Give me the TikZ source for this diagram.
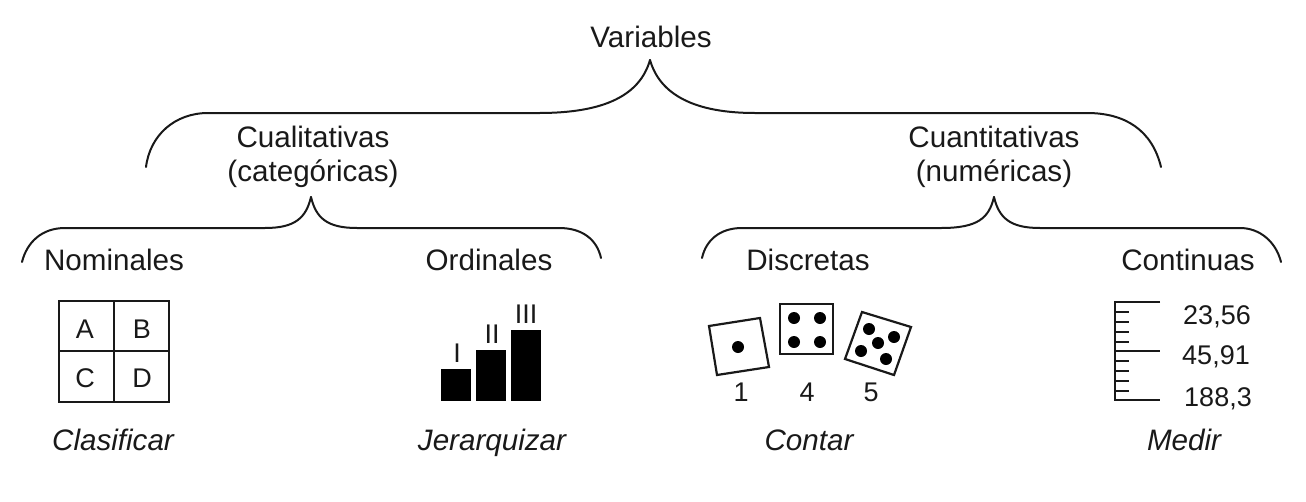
\documentclass[tikz,border=0pt]{standalone}
\usepackage{fontspec}
\setmainfont{Liberation Sans}
\newcommand{\bigtxt}{\fontsize{29.6}{31}\selectfont}
\newcommand{\midtxt}{\fontsize{27}{29}\selectfont}
\tikzset{
  x=1pt,y=-1pt,
  lab/.style={font=\bigtxt,anchor=base,inner sep=0pt,text=black!90},
  verb/.style={font=\bigtxt\itshape,anchor=base,inner sep=0pt,text=black!90},
  small/.style={font=\midtxt,anchor=base,inner sep=0pt,text=black!90},
  ink/.style={draw=black!90,line width=2.2pt,line join=miter},
  thinink/.style={draw=black!90,line width=2pt},
  brace/.style={draw=black!90,line width=2pt,line cap=round},
  bar/.style={fill=black,draw=none},
  pip/.style={fill=black,draw=none}
}
\begin{document}
\begin{tikzpicture}
\useasboundingbox (0,0) rectangle (1306,501);
% titles
\node[lab] (var) at (651,47) {Variables};
\node[lab] (cual) at (313,147) {Cualitativas};
\node[lab] (cat) at (313,181) {(categóricas)};
\node[lab] (cuan) at (994,147) {Cuantitativas};
\node[lab] (num) at (994,181) {(numéricas)};
\node[lab] (nom) at (114,270) {Nominales};
\node[lab] (ord) at (489,270) {Ordinales};
\node[lab] (dis) at (808,270) {Discretas};
\node[lab] (con) at (1188,270) {Continuas};
\node[verb] (v1) at (113,450) {Clasificar};
\node[verb] (v2) at (492,450) {Jerarquizar};
\node[verb] (v3) at (809,450) {Contar};
\node[verb] (v4) at (1184,450) {Medir};
% braces
\coordinate (t0) at (650,60);
\coordinate (e0l) at (146,167);
\coordinate (e0r) at (1161,167);
\draw[brace] (t0) .. controls (640,95) and (605,113) .. (539,113) -- (208,113) .. controls (175,113) and (150,135) .. (e0l);
\draw[brace] (t0) .. controls (660,95) and (695,113) .. (755,113) -- (1087,113) .. controls (1125,113) and (1152,130) .. (e0r);
\coordinate (t1) at (311,197);
\coordinate (e1l) at (22,262);
\coordinate (e1r) at (601,258);
\draw[brace] (t1) .. controls (306,218) and (295,228) .. (265,228) -- (65,228) .. controls (42,228) and (27,242) .. (e1l);
\draw[brace] (t1) .. controls (316,218) and (327,228) .. (357,228) -- (559,228) .. controls (583,228) and (597,240) .. (e1r);
\coordinate (t2) at (994,197);
\coordinate (e2l) at (702,258);
\coordinate (e2r) at (1281,262);
\draw[brace] (t2) .. controls (989,218) and (978,228) .. (941,228) -- (742,228) .. controls (720,228) and (706,240) .. (e2l);
\draw[brace] (t2) .. controls (999,218) and (1010,228) .. (1040,228) -- (1240,228) .. controls (1260,228) and (1276,242) .. (e2r);
% grid
\draw[ink] (59,301) rectangle (169,402);
\draw[ink] (114,301) -- (114,402) (59,351) -- (169,351);
\node[small] (a) at (85,338) {A};
\node[small] (b) at (142,338) {B};
\node[small] (c) at (85,387) {C};
\node[small] (d) at (142,387) {D};
% bars
\fill[bar] (441,369) rectangle (471,401);
\fill[bar] (476,350) rectangle (506,401);
\fill[bar] (511,330) rectangle (541,401);
\node[small] (r1) at (457,362) {I};
\node[small] (r2) at (492,343) {II};
\node[small] (r3) at (526,323) {III};
% dice
\draw[ink] (709,326) -- (760,318) -- (769,367) -- (717,375) -- cycle;
\fill[pip] (738,347) circle (6);
\draw[ink] (780,304) rectangle (833,354);
\foreach \px/\py in {794/318,820/318,794/342,820/342} \fill[pip] (\px,\py) circle (6);
\draw[ink] (862,312) -- (911,327) -- (894,375) -- (845,359) -- cycle;
\foreach \px/\py in {869/329,894/337,878/343,861/351,886/359} \fill[pip] (\px,\py) circle (6);
\node[small] (n1) at (741,401) {1};
\node[small] (n4) at (807,401) {4};
\node[small] (n5) at (871,401) {5};
% ruler
\draw[ink] (1160,302) -- (1115,302) -- (1115,400) -- (1160,400);
\draw[thinink] (1115,351) -- (1160,351);
\foreach \ty in {312,322,332,342,361,371,381,391} \draw[thinink] (1115,\ty) -- (1129,\ty);
\node[small] (m1) at (1217,324) {23,56};
\node[small] (m2) at (1216,364) {45,91};
\node[small] (m3) at (1218,406) {188,3};
\end{tikzpicture}
\end{document}
